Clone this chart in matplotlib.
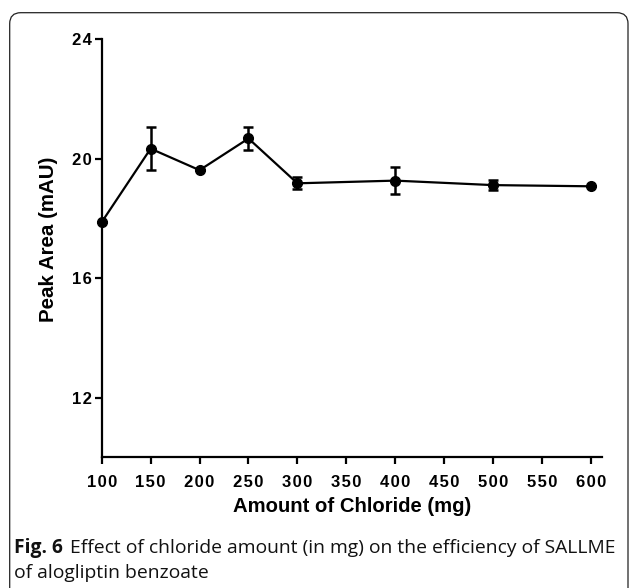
import matplotlib
matplotlib.use("Agg")
import matplotlib.pyplot as plt
from matplotlib.patches import FancyBboxPatch
from matplotlib.transforms import IdentityTransform
from matplotlib.ticker import FixedLocator, FuncFormatter

# ---- data ----
chloride_mg = [100, 150, 200, 250, 300, 400, 500, 600]
peak_area = [17.87, 20.33, 19.61, 20.67, 19.17, 19.26, 19.11, 19.07]
peak_err = [0.0, 0.71, 0.0, 0.37, 0.20, 0.46, 0.16, 0.0]
x_ticks = [100, 150, 200, 250, 300, 350, 400, 450, 500, 550, 600]
y_ticks = [12, 16, 20, 24]
x_label = "Amount of Chloride (mg)"
y_label = "Peak Area (mAU)"
caption_bold = "Fig. 6"
caption_line1 = "Effect of chloride amount (in mg) on the efficiency of SALLME"
caption_line2 = "of alogliptin benzoate"

W, H = 629, 588
fig = plt.figure(figsize=(W / 100, H / 100), dpi=100)
fig.patch.set_facecolor("white")

# rounded frame (open at the bottom edge)
frame = FancyBboxPatch((9.7, -30), 628 - 9.7, 588 - 12.7 + 30,
                       boxstyle="round,pad=0,rounding_size=11",
                       transform=IdentityTransform(), fill=False,
                       edgecolor="#222222", linewidth=0.9)
fig.patches.append(frame)

ax = fig.add_axes([101.7 / W, 1 - 457.3 / H, (601.7 - 101.7) / W, (457.3 - 39) / H])
ax.errorbar(chloride_mg, peak_area, yerr=peak_err, color="black", linewidth=1.6,
            marker="o", markersize=7, elinewidth=1.8, capsize=3.6, capthick=1.8,
            clip_on=False, zorder=3)

ax.set_xlim(100, 611)
ax.set_ylim(10, 24)
for s in ["top", "right"]:
    ax.spines[s].set_visible(False)
for s in ["left", "bottom"]:
    ax.spines[s].set_linewidth(1.6)
ax.spines["left"].set_bounds(10, 24)

ax.xaxis.set_major_locator(FixedLocator(x_ticks))
ax.yaxis.set_major_locator(FixedLocator(y_ticks))
spaced = FuncFormatter(lambda v, p: "\u200a".join(str(int(v))))
ax.xaxis.set_major_formatter(spaced)
ax.yaxis.set_major_formatter(spaced)
ax.tick_params(axis="both", direction="out", length=5, width=1.6, colors="black")
ax.tick_params(axis="x", pad=8)
ax.tick_params(axis="y", pad=2)
tick_fam = ["Liberation Sans", "DejaVu Sans"]
for lab in ax.get_xticklabels() + ax.get_yticklabels():
    lab.set_family(tick_fam)
    lab.set_fontweight("bold")
    lab.set_fontsize(12)

ax.set_xlabel(x_label, family="Liberation Sans", fontweight="bold", fontsize=14.6, labelpad=5)
ax.set_ylabel(y_label, family="Liberation Sans", fontweight="bold", fontsize=14.8)
ax.yaxis.set_label_coords(-0.088, 0.52)

# caption
cap_font = "Open Sans"
cap_size = 13.9
y1 = 1 - 548 / H
y2 = 1 - 573 / H
t_bold = fig.text(14 / W, y1, caption_bold, family=cap_font, fontweight="bold",
                  fontsize=cap_size, va="center", ha="left", color="#111111")
fig.canvas.draw()
bb = t_bold.get_window_extent()
fig.text((bb.x1 + 7) / W, y1, caption_line1, family=cap_font, fontsize=cap_size,
         va="center", ha="left", color="#111111")
fig.text(14 / W, y2, caption_line2, family=cap_font, fontsize=cap_size,
         va="center", ha="left", color="#111111")

fig.savefig("out.png", dpi=100, facecolor="white")
